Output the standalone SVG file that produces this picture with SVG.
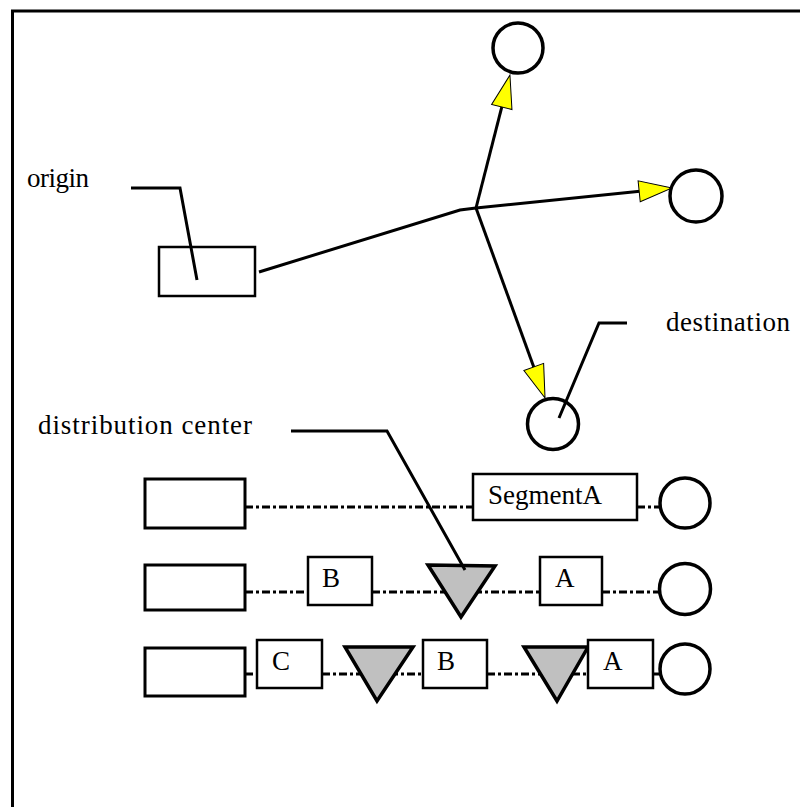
<svg xmlns="http://www.w3.org/2000/svg" width="800" height="807" viewBox="0 0 800 807">
  <style>
    .ln { fill: none; stroke: #000; stroke-width: 3; }
    .lead { fill: none; stroke: #000; stroke-width: 3; }
    .box { fill: #fff; stroke: #000; stroke-width: 3; }
    .stop { fill: #fff; stroke: #000; stroke-width: 3.5; }
    .dc { fill: #c0c0c0; stroke: #000; stroke-width: 3.5; stroke-linejoin: miter; }
    .route { fill: none; stroke: #000; stroke-width: 3; stroke-dasharray: 8 3 3 3; }
    .lbl { font-family: "Liberation Serif", "Times New Roman", serif; font-size: 27px; fill: #000; }
  </style>
  <defs>
    <marker id="arrow" markerUnits="userSpaceOnUse" viewBox="-15 -12 37 24" markerWidth="37" markerHeight="24" refX="0" refY="0" orient="auto" overflow="visible">
      <path d="M20,0 L-13,-10.5 L-13,10.5 Z" fill="#ffff00" stroke="#000" stroke-width="1" stroke-linejoin="miter"/>
    </marker>
  </defs>

  <rect width="800" height="807" fill="#fff"/>
  <!-- frame -->
  <path d="M12.5,807 V11 H800" fill="none" stroke="#000" stroke-width="3"/>

  <!-- flow connectors -->
  <g id="connectors">
    <path class="ln" d="M259,272 L460,210 L476,208"/>
    <path class="ln" d="M476,208 L505,94.4" marker-end="url(#arrow)"/>
    <path class="ln" d="M476,208 L652.1,190" marker-end="url(#arrow)"/>
    <path class="ln" d="M476,208 L538.2,379.2" marker-end="url(#arrow)"/>
  </g>

  <!-- network nodes -->
  <g id="origin-node"><rect class="box" x="159" y="247" width="96" height="49" style="stroke-width:2.5"/></g>
  <g id="dest-top"><circle class="stop" cx="518" cy="48" r="25"/></g>
  <g id="dest-right"><circle class="stop" cx="696" cy="196" r="26"/></g>
  <g id="dest-bottom"><circle class="stop" cx="553" cy="424" r="25.5"/></g>

  <!-- callouts -->
  <g id="label-origin">
    <text class="lbl" x="27" y="187" textLength="62" lengthAdjust="spacing">origin</text>
    <path class="lead" d="M131,188 H180 L197,280"/>
  </g>
  <g id="label-destination">
    <text class="lbl" x="666" y="331" textLength="124" lengthAdjust="spacing">destination</text>
    <path class="lead" d="M627,323 H599 L559,418"/>
  </g>

  <!-- route 1: single segment -->
  <g id="row1">
    <path class="route" d="M245,507 H473"/>
    <path class="route" d="M637,507 H660"/>
    <rect class="box" x="145" y="479" width="100" height="49"/>
    <rect class="box" x="473" y="474" width="164" height="46" style="stroke-width:2.5"/>
    <text class="lbl" x="488" y="504" textLength="114" lengthAdjust="spacing">SegmentA</text>
    <circle class="stop" cx="685" cy="503" r="25"/>
  </g>

  <!-- route 2: one distribution center -->
  <g id="row2">
    <path class="route" d="M245,592 H308"/>
    <path class="route" d="M372,592 H540"/>
    <path class="route" d="M602,592 H660"/>
    <rect class="box" x="145" y="565" width="100" height="45"/>
    <rect class="box" x="308" y="557" width="64" height="48" style="stroke-width:2.5"/>
    <text class="lbl" x="322" y="587">B</text>
    <polygon class="dc" points="428,565 495,566 461,617"/>
    <rect class="box" x="540" y="557" width="62" height="48" style="stroke-width:2.5"/>
    <text class="lbl" x="555" y="587">A</text>
    <circle class="stop" cx="685" cy="589" r="25.5"/>
  </g>

  <!-- route 3: two distribution centers -->
  <g id="row3">
    <path class="route" d="M245,674 H257"/>
    <path class="route" d="M322,674 H423"/>
    <path class="route" d="M487,674 H588"/>
    <path class="route" d="M653,674 H660"/>
    <rect class="box" x="145" y="648" width="100" height="48"/>
    <rect class="box" x="257" y="640" width="65" height="48" style="stroke-width:2.5"/>
    <text class="lbl" x="272" y="670">C</text>
    <polygon class="dc" points="345,647 413,647 377,701"/>
    <rect class="box" x="423" y="640" width="64" height="48" style="stroke-width:2.5"/>
    <text class="lbl" x="437" y="670">B</text>
    <polygon class="dc" points="524,647 588,647 557,701"/>
    <rect class="box" x="588" y="640" width="65" height="48" style="stroke-width:2.5"/>
    <text class="lbl" x="603" y="670">A</text>
    <circle class="stop" cx="685" cy="669" r="25"/>
  </g>

  <g id="label-dc">
    <text class="lbl" x="38" y="434" textLength="214" lengthAdjust="spacing">distribution center</text>
    <path class="lead" d="M291,431 H387 L465,570"/>
  </g>
</svg>
